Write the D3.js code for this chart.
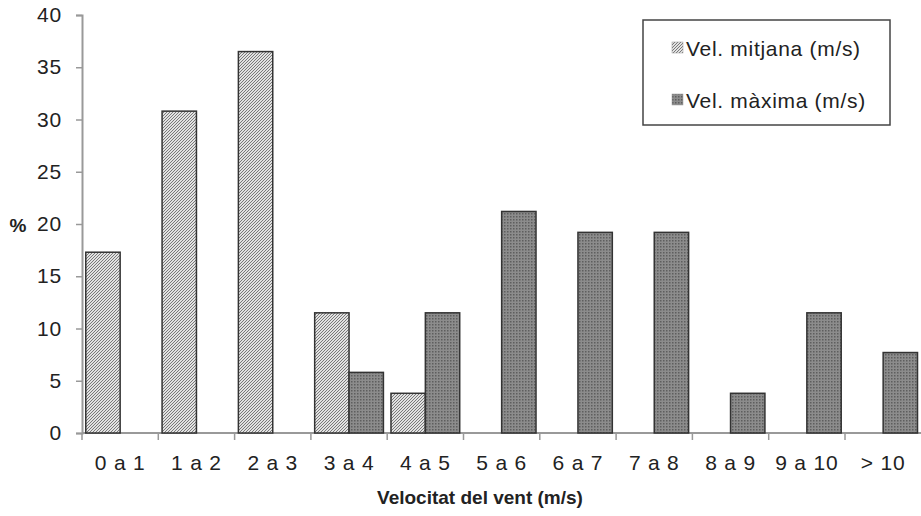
<!DOCTYPE html>
<html>
<head>
<meta charset="utf-8">
<script src="https://cdn.jsdelivr.net/npm/d3@7"></script>
<style>
  body { margin: 0; background: #fff; }
  text { font-family: "Liberation Sans", Arial, sans-serif; fill: #222; }
</style>
</head>
<body>
<script>
var categories = ["0 a 1", "1 a 2", "2 a 3", "3 a 4", "4 a 5", "5 a 6", "6 a 7", "7 a 8", "8 a 9", "9 a 10", "> 10"];
var mitjana = [17.3, 30.8, 36.5, 11.5, 3.8, 0, 0, 0, 0, 0, 0];
var maxima = [0, 0, 0, 5.8, 11.5, 21.2, 19.2, 19.2, 3.8, 11.5, 7.7];
var seriesNames = ["Vel. mitjana (m/s)", "Vel. m\u00e0xima (m/s)"];
var yTicks = [0, 5, 10, 15, 20, 25, 30, 35, 40];

var w = 921, h = 516;
var margin = {left: 82, top: 15};

var svg = d3.select("body").append("svg")
  .attr("width", w)
  .attr("height", h);

var defs = svg.append("defs");
var hatch = defs.append("pattern")
  .attr("id", "hatch")
  .attr("patternUnits", "userSpaceOnUse")
  .attr("width", 3).attr("height", 3);
hatch.append("rect").attr("width", 3).attr("height", 3).attr("fill", "#e2e2e2");
hatch.append("path").attr("d", "M-1,1 l2,-2 M0,3 l3,-3 M2,4 l2,-2")
  .attr("stroke", "#737373").attr("stroke-width", 0.95);

var dots = defs.append("pattern")
  .attr("id", "dots")
  .attr("patternUnits", "userSpaceOnUse")
  .attr("width", 3).attr("height", 3);
dots.append("rect").attr("width", 3).attr("height", 3).attr("fill", "#8c8c8c");
dots.append("rect").attr("width", 1.5).attr("height", 1.5).attr("fill", "#5e5e5e");

var x = d3.scaleBand()
  .domain(categories)
  .range([margin.left, margin.left + 76.3 * categories.length]);

var inner = d3.scaleBand()
  .domain([0, 1])
  .range([0, x.bandwidth()])
  .paddingOuter(0.11);

var y = d3.scaleLinear()
  .domain([0, 40])
  .range([433, margin.top]);

// axes
var yAxis = svg.append("g")
  .attr("transform", "translate(" + margin.left + ",0)")
  .call(d3.axisLeft(y).tickValues(yTicks).tickSize(6).tickPadding(14));
var xAxis = svg.append("g")
  .attr("transform", "translate(0," + y(0) + ")")
  .call(d3.axisBottom(x).tickSize(0).tickPadding(22));

[yAxis, xAxis].forEach(function(a) {
  a.selectAll("path").attr("stroke", "#999").attr("stroke-width", 2);
  a.selectAll("line").attr("stroke", "#999").attr("stroke-width", 1.5);
  a.selectAll("text").style("font-size", "21px").style("letter-spacing", "0.8px").attr("fill", "#222");
});
xAxis.select("path").attr("d", "M" + margin.left + ",0H" + w);

// ticks between categories on x axis
svg.append("g").selectAll("line")
  .data(categories)
  .enter().append("line")
  .attr("x1", function(d) { return x(d); })
  .attr("x2", function(d) { return x(d); })
  .attr("y1", y(0))
  .attr("y2", y(0) + 7)
  .attr("stroke", "#999")
  .attr("stroke-width", 1.5);

var series = [mitjana, maxima];
var fills = ["url(#hatch)", "url(#dots)"];

series.forEach(function(vals, si) {
  svg.append("g").selectAll("rect")
    .data(vals.map(function(v, i) { return {c: categories[i], v: v}; }).filter(function(d) { return d.v > 0; }))
    .enter().append("rect")
    .attr("x", function(d) { return x(d.c) + inner(si); })
    .attr("width", inner.bandwidth())
    .attr("y", function(d) { return y(d.v); })
    .attr("height", function(d) { return y(0) - y(d.v); })
    .attr("fill", fills[si])
    .attr("stroke", "#333")
    .attr("stroke-width", 1.5);
});

// axis titles
svg.append("text")
  .attr("x", 18).attr("y", 232)
  .attr("text-anchor", "middle")
  .style("font-size", "19px").style("font-weight", "bold")
  .text("%");
svg.append("text")
  .attr("x", 480).attr("y", 504)
  .attr("text-anchor", "middle")
  .style("font-size", "19px").style("font-weight", "bold")
  .text("Velocitat del vent (m/s)");

// legend
var lg = svg.append("g");
lg.append("rect")
  .attr("x", 643).attr("y", 20)
  .attr("width", 247).attr("height", 105)
  .attr("fill", "#fff").attr("stroke", "#444").attr("stroke-width", 1.5);
seriesNames.forEach(function(n, i) {
  var yy = 48 + i * 52;
  lg.append("rect")
    .attr("x", 672).attr("y", yy - 6)
    .attr("width", 11).attr("height", 11)
    .attr("fill", fills[i]).attr("stroke", "#999").attr("stroke-width", 0.5);
  lg.append("text")
    .attr("x", 686).attr("y", yy + 8)
    .style("font-size", "21px").style("letter-spacing", "0.7px")
    .text(n);
});
</script>
</body>
</html>
